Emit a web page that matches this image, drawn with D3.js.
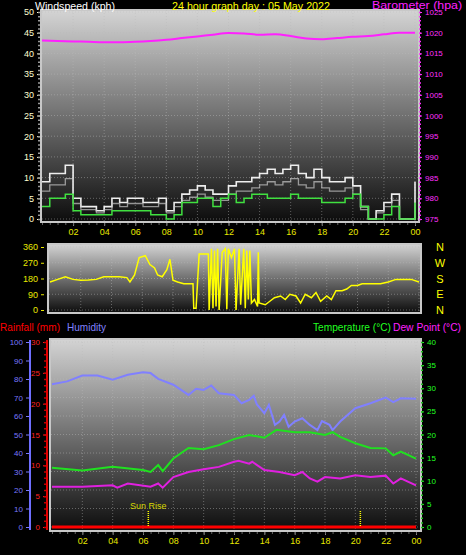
<!DOCTYPE html>
<html><head><meta charset="utf-8">
<script src="https://cdn.jsdelivr.net/npm/d3@7"></script>
<style>body{margin:0;background:#000}svg{display:block}text{font-family:"Liberation Sans",Arial,sans-serif}</style>
</head><body><svg id="c" width="466" height="555"></svg>
<script>
// ---- data ----
const halfHours = d3.range(0, 24.01, 0.5);
const windGust = [9,11,11,13,5,3,3,2,3,5,4,5,5,4,4,5,2,4,6,7,8,7,6,6,8,9,9,10,11,12,11,12,13,11,10,12,10,9,9,10,8,3,0,2,4,6,0,0,9];
const windAvg  = [3,5,5,6,2,1,1,1,1,2,2,2,2,2,1,1,0,1,4,4,5,5,3,5,6,4,5,6,6,5,5,5,6,5,5,5,4,4,4,5,6,3,0,0,1,3,0,0,4];
const baroHours = d3.range(0, 25);
const baro = [1018.1,1018.0,1017.9,1017.8,1017.7,1017.7,1017.8,1018.0,1018.3,1018.7,1019.1,1019.5,1019.9,1019.8,1019.5,1019.6,1019.2,1018.6,1018.4,1018.7,1019.0,1019.2,1019.6,1020.0,1020.0];
const dirHours = [0,0.5,1,1.5,2,2.5,3,3.5,4,4.5,5,5.2,5.5,5.8,6.2,6.5,6.8,7,7.3,7.6,7.8,8,8.3,8.7,9,9.3,9.35,9.5,9.7,10.3,10.35,10.5,10.6,10.7,10.8,10.9,11,11.2,11.4,11.5,11.6,11.8,12,12.1,12.3,12.4,12.6,12.7,12.8,12.9,13,13.1,13.3,13.5,13.55,13.6,14,14.3,14.6,15,15.3,15.6,16,16.3,16.6,17,17.3,17.6,18,18.3,18.6,19,19.3,19.6,20,20.3,20.5,21,21.5,22,22.5,23,23.5,24];
const windDir  = [160,175,190,175,170,172,175,190,190,190,185,160,200,300,310,260,240,200,190,230,290,170,160,150,150,150,10,10,320,320,0,350,10,340,20,350,0,330,350,5,350,300,350,0,350,30,350,10,340,60,340,40,60,20,330,40,30,50,70,80,60,90,80,40,90,70,100,50,80,60,110,110,120,140,140,150,150,150,150,160,175,175,175,160];
const tHours = [0,2,4,6,6.5,7,7.3,8,9,10,11,12,13,14,14.8,16,17,18,18.5,19,20,21,22,22.5,23,24];
const temp   = [12.8,12.2,13,12.3,11.9,13.4,12.1,14.8,17.1,16.8,17.7,19,19.9,19.3,21,20.5,20.5,19.9,20.5,19.5,18.1,17.1,17,15.5,16.3,14.8];
const dHours = [0,2,4,4.3,5,6.5,7,7.3,8,9,10,11,12,12.3,13,13.2,14,15,16,16.5,17,17.5,18,19,20,21,22,22.5,23,24];
const dew    = [8.7,8.7,9,8.5,9.4,8.7,9.4,8.5,10.8,11.9,12.5,13,14.1,14.3,13.7,14.1,12.3,11.9,11.2,11.9,10.5,9.8,10.8,10.5,11.2,10.8,11.1,9.4,10.5,9];
const hHours = [0,1,2,3,4,5,6,6.5,7,8,9,9.5,10,10.5,11,12,12.5,13,13.3,13.5,14,14.3,14.7,15,15.3,15.6,16,16.5,17,17.5,17.8,18.3,18.5,19,20,21,22,22.5,23,24];
const humid  = [77.2,78.7,81.9,81.9,79.6,82.3,83.7,83.2,80.1,76.9,71.4,74.7,74.1,76.5,72.3,71.4,66.9,68.7,71,66.4,61.5,66,55.2,57,60.6,54.2,57,58.8,55.2,52.4,57.3,55.2,52.4,57,64.2,66.9,70,67.5,69.6,69.3];
const rainHours = [0,24];
const rain = [0,0];
const hourTicks = [2,4,6,8,10,12,14,16,18,20,22,24];
const compass = ["N","W","S","E","N"];
const sunEvents = [{h:6.35,label:"Sun Rise"},{h:20.33,label:""}];

const svg = d3.select("#c");
const defs = svg.append("defs");
const g = defs.append("linearGradient").attr("id","bg").attr("x1",0).attr("x2",0).attr("y1",0).attr("y2",1);
g.append("stop").attr("offset","0").attr("stop-color","#d4d4d4");
g.append("stop").attr("offset","0.5").attr("stop-color","#707070");
g.append("stop").attr("offset","1").attr("stop-color","#0c0c0c");
const fmtH = h => d3.format("02")(h%24);

function panel(x0,x1,y0,y1){
  svg.append("rect").attr("x",x0).attr("y",y0).attr("width",x1-x0).attr("height",y1-y0)
    .attr("fill","url(#bg)").attr("stroke","#c8c8c8").attr("stroke-width",2);
}
function grid(x, y, hticks, x0,x1,y0,y1){
  svg.append("g").selectAll("line").data(hticks).join("line")
    .attr("x1",x0).attr("x2",x1).attr("y1",d=>y(d)).attr("y2",d=>y(d))
    .attr("stroke","#bbb").attr("stroke-opacity",0.45).attr("stroke-dasharray","1,2");
  svg.append("g").selectAll("line").data(hourTicks).join("line")
    .attr("x1",d=>x(d)).attr("x2",d=>x(d)).attr("y1",y0).attr("y2",y1)
    .attr("stroke","#bbb").attr("stroke-opacity",0.45).attr("stroke-dasharray","1,2");
}
function hourAxis(x, y){
  const ax = svg.append("g").attr("transform",`translate(0,${y})`)
    .call(d3.axisBottom(x).tickValues(hourTicks).tickFormat(fmtH).tickSize(3));
  ax.select(".domain").remove();
  ax.selectAll("line").attr("stroke","#888");
  ax.selectAll("text").attr("fill","#e8e800").attr("font-size",9);
  const minor = svg.append("g").attr("transform",`translate(0,${y})`)
    .call(d3.axisBottom(x).tickValues(d3.range(0,24.01,0.5)).tickFormat("").tickSize(2));
  minor.select(".domain").remove(); minor.selectAll("line").attr("stroke","#666");
}
function yAxis(scale, xpos, values, color, left, size){
  const ax = svg.append("g").attr("transform",`translate(${xpos},0)`)
    .call((left?d3.axisLeft(scale):d3.axisRight(scale)).tickValues(values).tickFormat(d3.format("d")).tickSize(3).tickPadding(3));
  ax.select(".domain").remove();
  ax.selectAll("line").attr("stroke",color);
  ax.selectAll("text").attr("fill",color).attr("font-size",size||9);
  return ax;
}
function minorTicks(scale, xpos, values, color, left){
  const ax = svg.append("g").attr("transform",`translate(${xpos},0)`)
    .call((left?d3.axisLeft(scale):d3.axisRight(scale)).tickValues(values).tickFormat("").tickSize(2));
  ax.select(".domain").remove(); ax.selectAll("line").attr("stroke",color).attr("stroke-width",1.5);
}
function label(x,y,txt,color,w){
  svg.append("text").attr("x",x).attr("y",y).attr("fill",color).attr("font-size",11)
    .attr("textLength",w).attr("lengthAdjust","spacingAndGlyphs").text(txt);
}

// ---- Panel 1: wind + baro ----
const x1 = d3.scaleLinear().domain([0,24]).range([42,415]);
const yW = d3.scaleLinear().domain([0,50]).range([219,12]);
const yB = d3.scaleLinear().domain([975,1025]).range([219,12]);
panel(41,419,10,222);
grid(x1,yW,d3.range(0,51,5),42,418,10,222);
yAxis(yW,40,d3.range(0,51,5),"#ffffd0",true);
minorTicks(yW,40,d3.range(0,50.1,1),"#999",true);
yAxis(yB,419,d3.range(975,1026,5),"#ff30ff",false,8);
minorTicks(yB,419,d3.range(975,1025.1,1),"#ff30ff",false);
hourAxis(x1,223);
svg.append("path").datum(windGust).attr("d",d3.line().x((d,i)=>x1(halfHours[i])).y(d=>yW(d)).curve(d3.curveStepAfter)).attr("fill","none").attr("stroke","#eeeeee").attr("stroke-width",1.6);
svg.append("path").datum(windGust).attr("d",d3.line().x((d,i)=>x1(halfHours[i])).y(d=>yW(d*0.75)).curve(d3.curveStepAfter)).attr("fill","none").attr("stroke","#c8c8c8").attr("stroke-width",1.3).attr("opacity",0.7);
svg.append("path").datum(windAvg).attr("d",d3.line().x((d,i)=>x1(halfHours[i])).y(d=>yW(d)).curve(d3.curveStepAfter)).attr("fill","none").attr("stroke","#40e040").attr("stroke-width",1.5);
svg.append("path").datum(baro).attr("d",d3.line().x((d,i)=>x1(baroHours[i])).y(d=>yB(d)).curve(d3.curveMonotoneX)).attr("fill","none").attr("stroke","#ff20ff").attr("stroke-width",2);
label(35,10,"Windspeed (kph)","#fff",80);
label(172,10,"24 hour graph day : 05 May 2022","#ffff00",158);
label(372,9,"Barometer (hpa)","#ff20ff",90);

// ---- Panel 2: wind direction ----
const x2 = d3.scaleLinear().domain([0,24]).range([50,419]);
const yD = d3.scaleLinear().domain([0,360]).range([310,247]);
panel(48,421,244,313);
grid(x2,yD,[0,90,180,270,360],49,420,244,313);
yAxis(yD,44,[0,90,180,270,360],"#e8e800",true);
svg.append("path").datum(windDir).attr("d",d3.line().x((d,i)=>x2(dirHours[i])).y(d=>yD(d))).attr("fill","none").attr("stroke","#ffff00").attr("stroke-width",1.5);
svg.append("g").selectAll("text").data(compass).join("text")
  .attr("x",440).attr("y",(d,i)=>yD(360-i*90)+4).attr("text-anchor","middle").attr("fill","#ffff00").attr("font-size",11).text(d=>d);

// ---- Panel 3 ----
const x3 = d3.scaleLinear().domain([0,24]).range([52,416]);
const yH = d3.scaleLinear().domain([0,100]).range([527,342]);
const yR = d3.scaleLinear().domain([0,30]).range([527,342]);
const yT = d3.scaleLinear().domain([0,40]).range([527,342]);
panel(50,421,339,531);
grid(x3,yH,d3.range(0,101,10),51,420,339,531);
svg.append("line").attr("x1",30).attr("x2",30).attr("y1",340).attr("y2",530).attr("stroke","#6f6fff").attr("stroke-width",2);
svg.append("line").attr("x1",47).attr("x2",47).attr("y1",340).attr("y2",530).attr("stroke","#e00000").attr("stroke-width",2);
yAxis(yH,29,d3.range(0,101,10),"#7878ff",true,8);
yAxis(yR,46,d3.range(0,31,5),"#ff2020",true,8);
minorTicks(yR,46,d3.range(0,30.1,1),"#c00000",true);
yAxis(yT,421,d3.range(0,41,5),"#20ff20",false,8);
minorTicks(yT,421,d3.range(0,40.1,1),"#20c020",false);
hourAxis(x3,532);
svg.append("path").datum(rain).attr("d",d3.line().x((d,i)=>x3(rainHours[i])).y(d=>yR(d))).attr("fill","none").attr("stroke","#ff0000").attr("stroke-width",3);
svg.append("path").datum(humid).attr("d",d3.line().x((d,i)=>x3(hHours[i])).y(d=>yH(d))).attr("fill","none").attr("stroke","#8080ff").attr("stroke-width",2);
svg.append("path").datum(temp).attr("d",d3.line().x((d,i)=>x3(tHours[i])).y(d=>yT(d))).attr("fill","none").attr("stroke","#20e020").attr("stroke-width",2);
svg.append("path").datum(dew).attr("d",d3.line().x((d,i)=>x3(dHours[i])).y(d=>yT(d))).attr("fill","none").attr("stroke","#e020e0").attr("stroke-width",2);
svg.append("g").selectAll("line").data(sunEvents).join("line")
  .attr("x1",d=>x3(d.h)).attr("x2",d=>x3(d.h)).attr("y1",511).attr("y2",526)
  .attr("stroke","#ffff00").attr("stroke-dasharray","1,1").attr("stroke-width",1.5);
svg.append("g").selectAll("text").data(sunEvents).join("text")
  .attr("x",d=>x3(d.h)).attr("y",509).attr("text-anchor","middle").attr("fill","#d8d800").attr("font-size",9).text(d=>d.label);
label(0,331,"Rainfall (mm)","#ff0000",60);
label(67,331,"Humidity","#8080ff",39);
label(313,331,"Temperature (°C)","#20ff20",78);
label(393,331,"Dew Point (°C)","#ff20ff",68);
</script></body></html>
